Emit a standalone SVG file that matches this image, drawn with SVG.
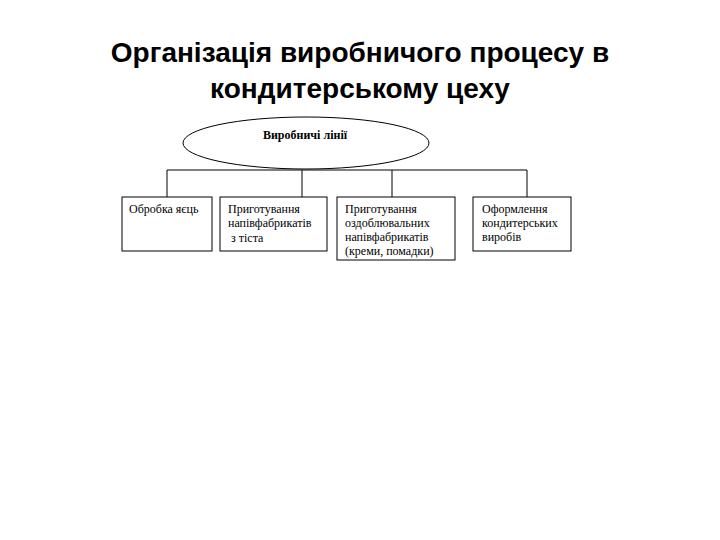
<svg xmlns="http://www.w3.org/2000/svg" width="720" height="540" viewBox="0 0 720 540">
<style>
.title{font-family:"Liberation Sans",Arial,sans-serif;font-weight:bold;font-size:28px;fill:#000;text-anchor:middle}
.t{font-family:"Liberation Serif","Times New Roman",serif;font-size:12px;fill:#000}
.b{fill:#fff;stroke:#000;stroke-width:1}
.c{fill:none;stroke:#000;stroke-width:1}
</style>
<rect width="720" height="540" fill="#fff"/>
<text class="title" x="360" y="62">Організація виробничого процесу в</text>
<text class="title" x="360" y="98">кондитерському цеху</text>
<g id="connectors">
<path class="c" d="M167 170H527M167 170V197M302 170V197M392 170V197M527 170V197"/>
</g>
<g id="root">
<ellipse class="b" cx="306" cy="143" rx="123" ry="26"/>
<text class="t" x="305" y="139" text-anchor="middle" font-weight="bold">Виробничі лінії</text>
</g>
<g id="n1">
<rect class="b" x="122" y="197" width="90" height="54"/>
<text class="t" x="129" y="213">Обробка яєць</text>
</g>
<g id="n2">
<rect class="b" x="220" y="197" width="107" height="54"/>
<text class="t" x="228" y="213">Приготування</text>
<text class="t" x="228" y="227">напівфабрикатів</text>
<text class="t" x="231" y="242">з тіста</text>
</g>
<g id="n3">
<rect class="b" x="337" y="197" width="118" height="63"/>
<text class="t" x="345" y="213">Приготування</text>
<text class="t" x="345" y="227">оздоблювальних</text>
<text class="t" x="345" y="241">напівфабрикатів</text>
<text class="t" x="345" y="255">(креми, помадки)</text>
</g>
<g id="n4">
<rect class="b" x="473" y="197" width="98" height="54"/>
<text class="t" x="482" y="213">Оформлення</text>
<text class="t" x="482" y="227">кондитерських</text>
<text class="t" x="482" y="241">виробів</text>
</g>
</svg>
